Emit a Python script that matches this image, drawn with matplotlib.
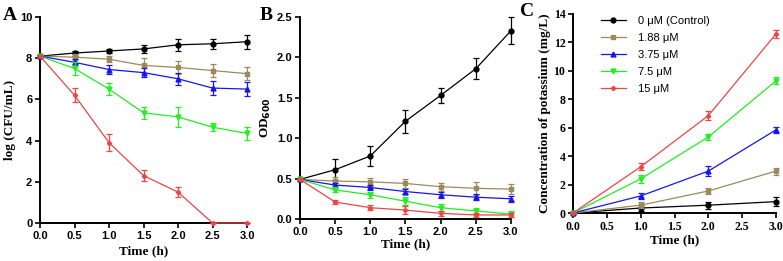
import matplotlib
matplotlib.use("Agg")
import matplotlib.pyplot as plt
from matplotlib.font_manager import FontProperties

labels = ["0 \u03bcM (Control)", "1.88 \u03bcM", "3.75 \u03bcM", "7.5 \u03bcM", "15 \u03bcM"]
colors = ["#000000", "#9c8a5c", "#1515ee", "#22ee22", "#ee4444"]
markers = ["o", "s", "^", "v", "D"]
msizes = [3.5, 3.5, 3.5, 3.5, 2.2]

time_ab = [0.0, 0.5, 1.0, 1.5, 2.0, 2.5, 3.0]
time_c = [0.0, 1.0, 2.0, 3.0]

# Panel A: log(CFU/mL)
a_vals = [
    [8.1, 8.25, 8.35, 8.45, 8.65, 8.7, 8.8],
    [8.1, 8.05, 7.95, 7.65, 7.55, 7.4, 7.25],
    [8.1, 7.8, 7.45, 7.3, 7.0, 6.55, 6.5],
    [8.1, 7.5, 6.5, 5.35, 5.15, 4.65, 4.35],
    [8.1, 6.2, 3.9, 2.3, 1.5, 0.0, 0.0],
]
a_err = [
    [0.05, 0.12, 0.12, 0.2, 0.3, 0.25, 0.35],
    [0.05, 0.15, 0.15, 0.35, 0.3, 0.3, 0.3],
    [0.05, 0.15, 0.2, 0.2, 0.3, 0.35, 0.35],
    [0.05, 0.3, 0.3, 0.3, 0.5, 0.2, 0.3],
    [0.05, 0.35, 0.4, 0.25, 0.25, 0.0, 0.0],
]

# Panel B: OD600
b_vals = [
    [0.49, 0.61, 0.78, 1.21, 1.53, 1.86, 2.33],
    [0.49, 0.47, 0.46, 0.44, 0.40, 0.38, 0.37],
    [0.49, 0.42, 0.39, 0.34, 0.30, 0.27, 0.25],
    [0.49, 0.36, 0.30, 0.22, 0.14, 0.10, 0.06],
    [0.49, 0.21, 0.14, 0.11, 0.07, 0.05, 0.05],
]
b_err = [
    [0.01, 0.13, 0.12, 0.14, 0.09, 0.13, 0.17],
    [0.01, 0.05, 0.05, 0.06, 0.05, 0.08, 0.06],
    [0.01, 0.03, 0.03, 0.03, 0.04, 0.04, 0.04],
    [0.01, 0.03, 0.04, 0.05, 0.04, 0.04, 0.04],
    [0.01, 0.02, 0.03, 0.05, 0.03, 0.02, 0.02],
]

# Panel C: potassium (mg/L)
c_vals = [
    [0.0, 0.35, 0.55, 0.8],
    [0.0, 0.55, 1.55, 2.95],
    [0.0, 1.2, 2.95, 5.85],
    [0.0, 2.4, 5.35, 9.3],
    [0.0, 3.25, 6.85, 12.6],
]
c_err = [
    [0.0, 0.2, 0.25, 0.3],
    [0.0, 0.2, 0.2, 0.25],
    [0.0, 0.2, 0.35, 0.2],
    [0.0, 0.3, 0.2, 0.25],
    [0.0, 0.25, 0.3, 0.3],
]

ab_xticks = [0.0, 0.5, 1.0, 1.5, 2.0, 2.5, 3.0]
a_yticks = [0, 2, 4, 6, 8, 10]
b_yticks = [0.0, 0.5, 1.0, 1.5, 2.0, 2.5]
c_yticks = [0, 2, 4, 6, 8, 10, 12, 14]

fig = plt.figure(figsize=(7.83, 2.61), dpi=100)
sans_tick = FontProperties(family="Liberation Sans", weight="bold", size=8)
serif_tick = FontProperties(family="Liberation Serif", weight="bold", size=8.5)
labfont = dict(family="Liberation Serif", weight="bold", size=9.5)


def style(ax, ylim, yticks, ylabels, tickprop):
    for s in ["top", "right"]:
        ax.spines[s].set_visible(False)
    for s in ["left", "bottom"]:
        ax.spines[s].set_linewidth(1.4)
    ax.set_xlim(0, 3.0)
    ax.set_ylim(*ylim)
    ax.set_xticks(ab_xticks)
    ax.set_yticks(yticks)
    ax.set_xticklabels([f"{v:.1f}" for v in ab_xticks])
    ax.set_yticklabels(ylabels)
    ax.tick_params(width=1.2, length=3.5, direction="out", pad=2)
    for t in ax.get_xticklabels() + ax.get_yticklabels():
        t.set_fontproperties(tickprop)


def draw(ax, x, vals, errs):
    lines = []
    for i in range(len(vals)):
        cont = ax.errorbar(x, vals[i], yerr=errs[i], color=colors[i], marker=markers[i],
                           ms=msizes[i], lw=0.9, elinewidth=0.9, capsize=2.2, capthick=0.9,
                           label=labels[i], clip_on=False, zorder=3 + i)
        lines.append(cont[0])
    return lines


axA = fig.add_axes([0.0511, 0.1456, 0.2644, 0.7893])
draw(axA, time_ab, a_vals, a_err)
style(axA, (0, 10), a_yticks, [str(v) for v in a_yticks], sans_tick)
axA.set_xlabel("Time (h)", fontdict=labfont, labelpad=3)
axA.set_ylabel("log (CFU/mL)", fontdict=labfont, labelpad=3)

axB = fig.add_axes([0.3831, 0.1609, 0.2695, 0.774])
draw(axB, time_ab, b_vals, b_err)
style(axB, (0, 2.5), b_yticks, [f"{v:.1f}" for v in b_yticks], sans_tick)
axB.set_xlabel("Time (h)", fontdict=labfont, labelpad=1)
axB.set_ylabel("OD$_{\\mathbf{600}}$", fontdict=labfont, labelpad=3)

axC = fig.add_axes([0.7318, 0.1839, 0.2593, 0.7625])
c_lines = draw(axC, time_c, c_vals, c_err)
style(axC, (0, 14), c_yticks, [str(v) for v in c_yticks], serif_tick)
axC.set_xlabel("Time (h)", fontdict=labfont, labelpad=1)
axC.set_ylabel("Concentration of potassium (mg/L)", fontdict=labfont, labelpad=2)
axC.legend(handles=c_lines, labels=labels, loc="upper left", bbox_to_anchor=(0.09, 1.04),
           frameon=False, prop=dict(family="Liberation Sans", size=8), handlelength=2.2,
           labelspacing=0.62, handletextpad=1.1)

panel_font = dict(family="Liberation Serif", weight="bold", size=14)
fig.text(0.003, 0.975, "A", fontdict=panel_font, va="top")
fig.text(0.331, 0.975, "B", fontdict=panel_font, va="top")
fig.text(0.664, 0.990, "C", fontdict=panel_font, va="top")

fig.savefig("out.png", dpi=100)
